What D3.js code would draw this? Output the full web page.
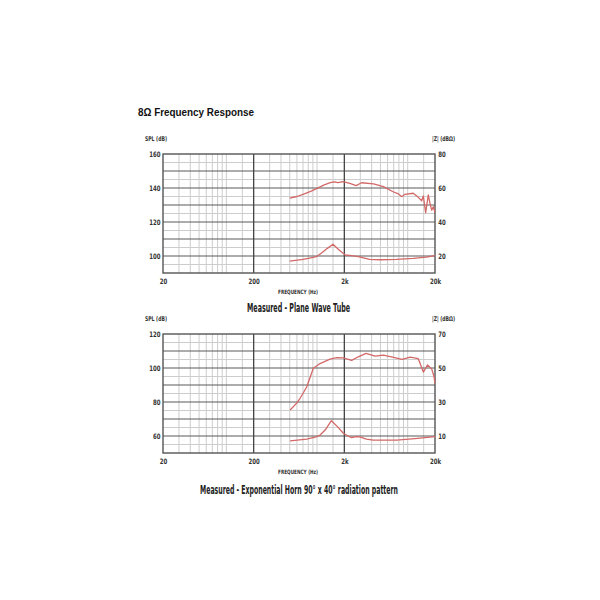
<!DOCTYPE html>
<html>
<head>
<meta charset="utf-8">
<script src="https://cdn.jsdelivr.net/npm/d3@7/dist/d3.min.js"></script>
<style>
  html, body { margin: 0; padding: 0; background: #fff; }
  svg { display: block; }
</style>
</head>
<body>
<script>
// ---------- DATA ----------
const titleText = "8\u03A9 Frequency Response";
const xTickValues = [20, 200, 2000, 20000];
const xTickLabels = ["20", "200", "2k", "20k"];
const minorMultipliers = [1.5, 2, 2.5, 3, 3.5, 4, 4.5, 5, 7.5];

// Chart 1: Plane Wave Tube
const c1Caption = "Measured - Plane Wave Tube";
const c1SplDomain = [90, 160];
const c1ZDomain = [10, 80];
const c1SplTicks = [100, 120, 140, 160];
const c1ZTicks = [20, 40, 60, 80];
const c1SplFreq = [500, 600, 700, 850, 1000, 1200, 1400, 1550, 1700, 1950, 2300, 2700, 3100, 4200, 5400, 6900, 7900, 8600, 9300, 11500, 13100, 14260, 14870, 15780, 16870, 17610, 18380, 19160, 20000];
const c1SplVal  = [134, 135, 136.3, 138, 139.8, 141.8, 143.1, 143.6, 143.1, 143.7, 142.7, 141.4, 143.1, 142.4, 140.8, 137.8, 136.5, 134.9, 136.3, 136.9, 134.5, 132.5, 135.3, 125.5, 135.9, 131, 127, 129, 125.5];
const c1ZFreq = [500, 700, 910, 1000, 1130, 1300, 1500, 1750, 2050, 2400, 2850, 3800, 5000, 7500, 11500, 16000, 20000];
const c1ZVal  = [17, 18, 19.2, 19.8, 21.9, 24.5, 26.9, 23.5, 20.6, 20.2, 19.6, 18, 17.8, 18, 18.6, 19.3, 20.2];

// Chart 2: Exponential Horn
const c2Caption = "Measured - Exponential Horn 90\u00B0 x 40\u00B0 radiation pattern";
const c2SplDomain = [50, 120];
const c2ZDomain = [0, 70];
const c2SplTicks = [60, 80, 100, 120];
const c2ZTicks = [10, 30, 50, 70];
const c2SplFreq = [505, 600, 650, 700, 770, 910, 1080, 1390, 1650, 1950, 2410, 2850, 3470, 4370, 5390, 6990, 8650, 10690, 13090, 14870, 16560, 18380, 19500, 20000];
const c2SplVal  = [75.3, 79.5, 82.2, 85, 89, 99.8, 102.6, 105.2, 106.1, 106, 104.5, 106.6, 108.6, 107, 107.6, 106.3, 105.1, 106.4, 105.5, 97.6, 101.8, 99.5, 95, 91];
const c2ZFreq = [505, 770, 1000, 1080, 1250, 1440, 1700, 1950, 2200, 2410, 2700, 2970, 3500, 4170, 7560, 12000, 20000];
const c2ZVal  = [7.1, 8.2, 9.6, 10.6, 14, 19, 15.2, 11.6, 10, 9, 9.6, 9.5, 8.2, 7.6, 7.6, 8.5, 9.6];

// ---------- LAYOUT ----------
const W = 600, H = 600;
const FONT = "'Liberation Sans Narrow', 'DejaVu Sans Condensed', 'Liberation Sans', sans-serif";
const svg = d3.select("body").append("svg").attr("width", W).attr("height", H);

svg.append("text")
  .attr("x", 138).attr("y", 116)
  .attr("font-family", "'Liberation Sans', Arial, sans-serif")
  .attr("font-weight", "bold").attr("font-size", 10)
  .attr("fill", "#111")
  .attr("textLength", 116).attr("lengthAdjust", "spacingAndGlyphs")
  .text(titleText);

function drawChart(cfg) {
  const left = 163, right = 435, top = cfg.top, bottom = cfg.top + 119;
  const g = svg.append("g");
  const x = d3.scaleLog().domain([20, 20000]).range([left, right]);
  const y = d3.scaleLinear().domain(cfg.splDomain).range([bottom, top]);
  const yz = d3.scaleLinear().domain(cfg.zDomain).range([bottom, top]);

  // minor vertical grid
  const minorX = [];
  [20, 200, 2000].forEach(b => minorMultipliers.forEach(m => minorX.push(b * m)));
  g.append("g").selectAll("line").data(minorX).join("line")
    .attr("x1", d => x(d)).attr("x2", d => x(d))
    .attr("y1", top).attr("y2", bottom)
    .attr("stroke", "#cdcdcd").attr("stroke-width", 1);

  // minor horizontal grid (every 5 dB)
  const minorY = d3.range(cfg.splDomain[0] + 5, cfg.splDomain[1], 10);
  g.append("g").selectAll("line").data(minorY).join("line")
    .attr("x1", left).attr("x2", right)
    .attr("y1", d => y(d)).attr("y2", d => y(d))
    .attr("stroke", "#cdcdcd").attr("stroke-width", 1);

  // major horizontal grid (every 10 dB)
  const majorY = d3.range(cfg.splDomain[0] + 10, cfg.splDomain[1], 10);
  g.append("g").selectAll("line").data(majorY).join("line")
    .attr("x1", left).attr("x2", right)
    .attr("y1", d => y(d)).attr("y2", d => y(d))
    .attr("stroke", "#5a5a5a").attr("stroke-width", 1.2);

  // major vertical grid
  g.append("g").selectAll("line").data([200, 2000]).join("line")
    .attr("x1", d => x(d)).attr("x2", d => x(d))
    .attr("y1", top).attr("y2", bottom)
    .attr("stroke", "#444").attr("stroke-width", 1.3);

  // border
  g.append("rect")
    .attr("x", left).attr("y", top)
    .attr("width", right - left).attr("height", bottom - top)
    .attr("fill", "none").attr("stroke", "#555").attr("stroke-width", 1.4);

  // curves
  const line = (ys) => d3.line().x(d => x(d[0])).y(d => ys(d[1]));
  g.append("path")
    .datum(cfg.splFreq.map((f, i) => [f, cfg.splVal[i]]))
    .attr("d", line(y))
    .attr("fill", "none").attr("stroke", "#d36868").attr("stroke-width", 1.3)
    .attr("stroke-linejoin", "round");
  g.append("path")
    .datum(cfg.zFreq.map((f, i) => [f, cfg.zVal[i]]))
    .attr("d", line(yz))
    .attr("fill", "none").attr("stroke", "#d36868").attr("stroke-width", 1.3)
    .attr("stroke-linejoin", "round");

  // axes
  const styleAxis = (sel) => {
    sel.select(".domain").remove();
    sel.selectAll(".tick line").remove();
    sel.selectAll("text")
      .attr("font-family", FONT).attr("font-weight", "bold")
      .attr("font-size", 7.5).attr("fill", "#333")
      .attr("transform", "scale(0.8,1)");
  };
  g.append("g").attr("transform", `translate(${left},0)`)
    .call(d3.axisLeft(y).tickValues(cfg.splTicks).tickSize(0).tickPadding(3).tickFormat(d3.format("d")))
    .call(styleAxis);
  g.append("g").attr("transform", `translate(${right},0)`)
    .call(d3.axisRight(yz).tickValues(cfg.zTicks).tickSize(0).tickPadding(4).tickFormat(d3.format("d")))
    .call(styleAxis);
  g.append("g").attr("transform", `translate(0,${bottom})`)
    .call(d3.axisBottom(x).tickValues(xTickValues).tickSize(0).tickPadding(6)
      .tickFormat((d, i) => xTickLabels[i]))
    .call(styleAxis);

  const label = (tx, ty, txt, size, len, anchor) => {
    g.append("text")
      .attr("x", tx).attr("y", ty)
      .attr("text-anchor", anchor || "start")
      .attr("font-family", FONT).attr("font-weight", "bold")
      .attr("font-size", size).attr("fill", "#333")
      .attr("textLength", len).attr("lengthAdjust", "spacingAndGlyphs")
      .text(txt);
  };
  label(145, top - 13.5, "SPL (dB)", 6.5, 22);
  label(432, top - 13.5, "|Z| (dB\u03A9)", 6.5, 23);
  label(298, bottom + 21, "FREQUENCY (Hz)", 6, 40, "middle");

  g.append("text")
    .attr("x", cfg.capX).attr("y", cfg.capY)
    .attr("text-anchor", "middle")
    .attr("font-family", FONT).attr("font-weight", "bold")
    .attr("font-size", cfg.capSize).attr("fill", "#222")
    .attr("textLength", cfg.capLen).attr("lengthAdjust", "spacingAndGlyphs")
    .text(cfg.caption);
}

drawChart({
  top: 154, splDomain: c1SplDomain, zDomain: c1ZDomain,
  splTicks: c1SplTicks, zTicks: c1ZTicks,
  splFreq: c1SplFreq, splVal: c1SplVal, zFreq: c1ZFreq, zVal: c1ZVal,
  caption: c1Caption, capX: 298.5, capY: 312, capSize: 12, capLen: 103
});
drawChart({
  top: 334, splDomain: c2SplDomain, zDomain: c2ZDomain,
  splTicks: c2SplTicks, zTicks: c2ZTicks,
  splFreq: c2SplFreq, splVal: c2SplVal, zFreq: c2ZFreq, zVal: c2ZVal,
  caption: c2Caption, capX: 299, capY: 494, capSize: 11.5, capLen: 198
});
</script>
</body>
</html>
